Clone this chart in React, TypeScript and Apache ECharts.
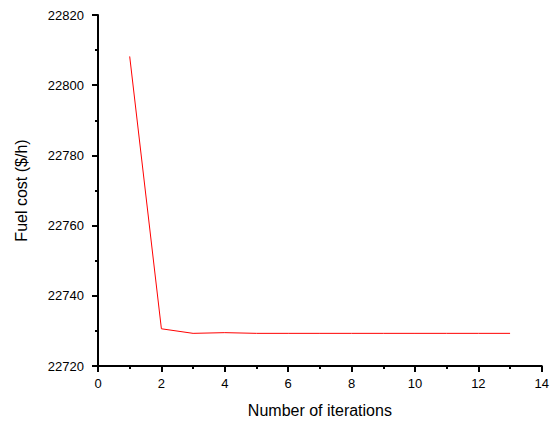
import React, { useEffect, useRef } from "react";
import * as echarts from "echarts";

const iterations = [1, 2, 3, 4, 5, 6, 7, 8, 9, 10, 11, 12, 13];
const fuelCost = [22808.2, 22730.6, 22729.3, 22729.5, 22729.3, 22729.3, 22729.3, 22729.3, 22729.3, 22729.3, 22729.3, 22729.3, 22729.3];
const xTitle = "Number of iterations";
const yTitle = "Fuel cost ($/h)";

export default function App() {
  const ref = useRef<HTMLDivElement>(null);
  useEffect(() => {
    if (!ref.current) return;
    const chart = echarts.init(ref.current, undefined, { renderer: "svg" });
    const font = "Liberation Sans, Arial, sans-serif";
    const ink = "#000000";
    const axisCommon = {
      type: "value",
      nameLocation: "middle",
      nameTextStyle: { fontFamily: font, fontSize: 16, color: ink },
      axisLine: { show: true, onZero: false, lineStyle: { color: ink, width: 2, opacity: 1 } },
      axisTick: { show: true, inside: false, length: 6, lineStyle: { color: ink, width: 2, opacity: 1 } },
      minorTick: { show: true, splitNumber: 2, length: 3, lineStyle: { color: ink, width: 2, opacity: 1 } },
      splitLine: { show: false },
      minorSplitLine: { show: false },
    };
    chart.setOption({
      animation: false,
      backgroundColor: "#ffffff",
      grid: { left: 98, right: 6, top: 15, bottom: 56, containLabel: false },
      xAxis: {
        ...axisCommon,
        min: 0,
        max: 14,
        interval: 2,
        name: xTitle,
        nameGap: 36,
        axisLabel: { fontFamily: font, fontSize: 13, color: ink, margin: 11, formatter: (v: number) => String(v) },
      },
      yAxis: {
        ...axisCommon,
        min: 22720,
        max: 22820,
        interval: 20,
        name: yTitle,
        nameGap: 69,
        axisLabel: { fontFamily: font, fontSize: 13, color: ink, margin: 14, formatter: (v: number) => String(v) },
      },
      series: [
        {
          type: "line",
          data: iterations.map((x, i) => [x, fuelCost[i]]),
          symbol: "none",
          lineStyle: { color: "#ff0000", width: 1 },
          itemStyle: { color: "#ff0000" },
        },
      ],
    });
    return () => chart.dispose();
  }, []);
  return (
    <div
      ref={ref}
      style={{ position: "absolute", left: 0, top: 0, width: 552, height: 423 }}
    />
  );
}
